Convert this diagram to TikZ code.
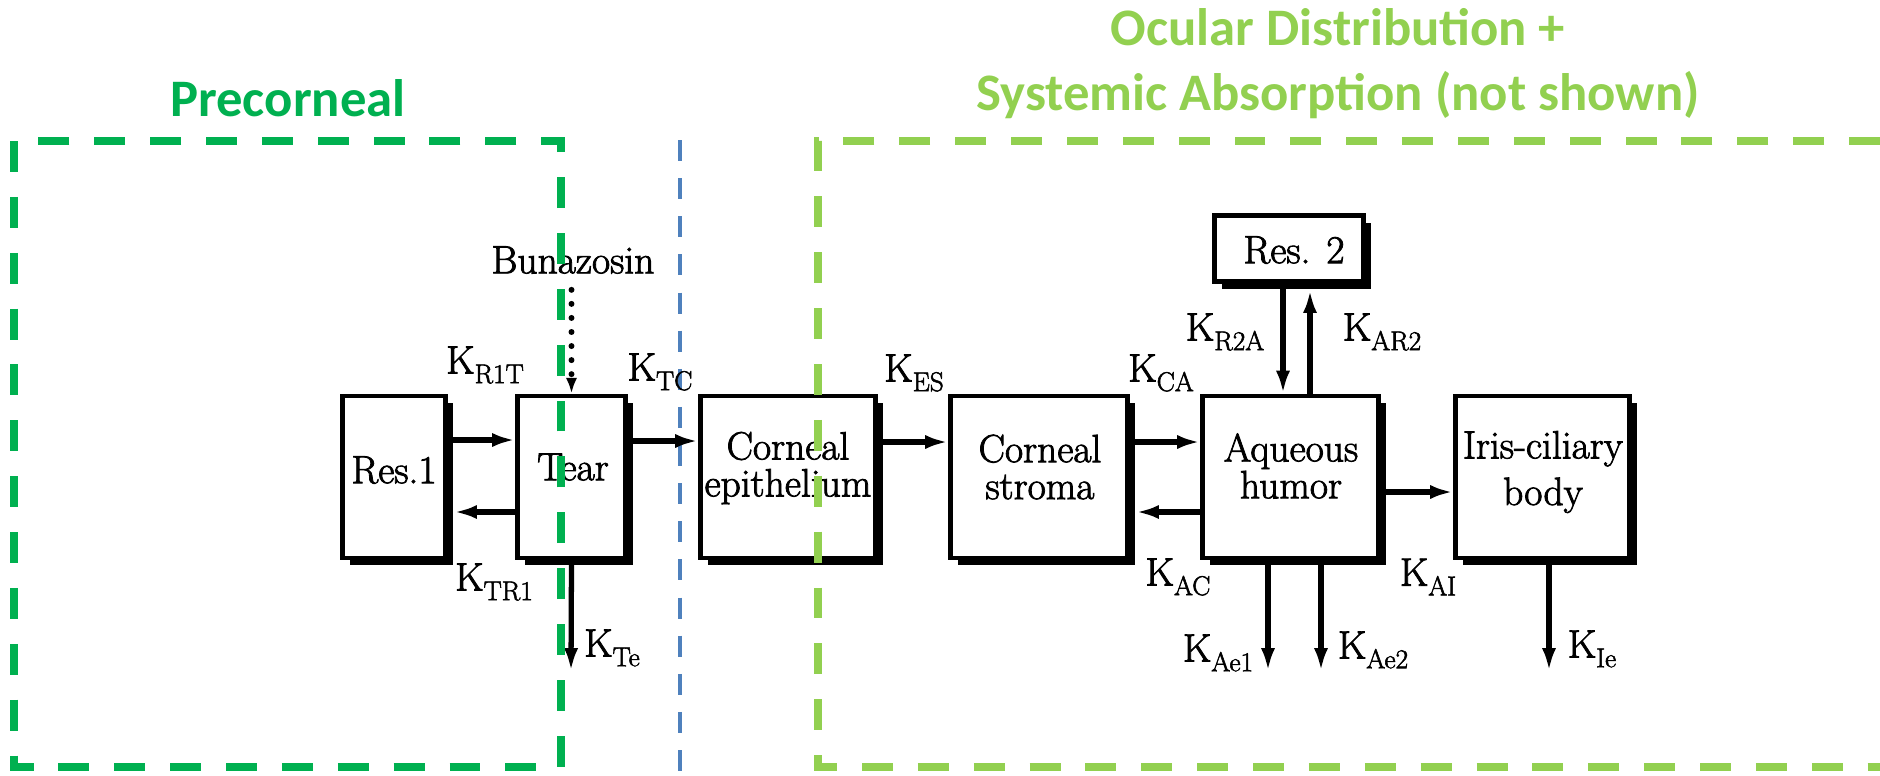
\documentclass[tikz,border=0pt]{standalone}
\usepackage{fontspec}
\newfontfamily\titlefont{Carlito}
\newfontfamily\boxfont{Latin Modern Roman}[FakeBold=2]
\usetikzlibrary{arrows.meta,shadows}

\definecolor{precgreen}{HTML}{00B050}
\definecolor{ocugreen}{HTML}{92D050}
\definecolor{sepblue}{HTML}{4F81BD}

\newcommand{\krate}[1]{K\raisebox{-5.5pt}{\fontsize{15.5}{15.5}\selectfont #1}}

\tikzset{
  comp/.style={draw=black, line width=2.8pt, fill=white, inner sep=0pt,
    drop shadow={shadow xshift=4pt, shadow yshift=-4pt, fill=black, opacity=1}},
  compname/.style={inner sep=0pt, align=center},
  flow/.style={line width=3pt, -{Latex[length=13pt,width=8pt]}},
  rate/.style={inner sep=0pt},
  region/.style={line width=4.5pt, dash pattern=on 17.6pt off 14.2pt},
}

\begin{document}
\begin{tikzpicture}[x=0.02cm,y=-0.02cm,font=\boxfont\fontsize{22.5}{21}\selectfont]
\useasboundingbox (0,0) rectangle (1880,775);
\draw [sepblue, line width=2.8pt, dash pattern=on 12pt off 9.7pt] (680,140) -- (680,775);

% compartments
\node [comp, minimum width=2.06cm, minimum height=3.24cm] (r1) at (394,477) {};
\node [comp, minimum width=2.16cm, minimum height=3.24cm] (t) at (571.5,477) {};
\node [comp, minimum width=3.5cm, minimum height=3.24cm] (ep) at (788,477) {};
\node [comp, minimum width=3.54cm, minimum height=3.24cm] (st) at (1039,477) {};
\node [comp, minimum width=3.52cm, minimum height=3.24cm] (aq) at (1290.5,477) {};
\node [comp, minimum width=3.48cm, minimum height=3.24cm] (ir) at (1542.5,477) {};
\node [comp, minimum width=2.98cm, minimum height=1.32cm] (r2) at (1289,248.5) {};

\node [compname] (r1n) at (394,470) {Res.1};
\node [compname] (tn) at (573,467) {Tear};
\node [compname] (epn) at (788,468) {Corneal\\epithelium};
\node [compname] (stn) at (1040,467) {Corneal\\stroma};
\node [compname] (aqn) at (1291,466) {Aqueous\\humor};
\node [compname] (irn) at (1543,472) {Iris-ciliary\\[5.5pt]body};
\node [compname] (r2n) at (1294,250) {Res. 2};

% rate constants
\node [rate] (bz) at (573,260) {Bunazosin};
\node [rate] (kr1t) at (485,365) {\krate{R1T}};
\node [rate] (ktc) at (660,372) {\krate{TC}};
\node [rate] (ktr1) at (494,582) {\krate{TR1}};
\node [rate] (kte) at (612,648) {\krate{Te}};
\node [rate] (kes) at (914,373) {\krate{ES}};
\node [rate] (kca) at (1161,373) {\krate{CA}};
\node [rate] (kr2a) at (1225,332) {\krate{R2A}};
\node [rate] (kar2) at (1382,332) {\krate{AR2}};
\node [rate] (kac) at (1178,577) {\krate{AC}};
\node [rate] (kai) at (1428,577) {\krate{AI}};
\node [rate] (kae1) at (1218,653) {\krate{Ae1}};
\node [rate] (kae2) at (1373,650) {\krate{Ae2}};
\node [rate] (kie) at (1592,649) {\krate{Ie}};

\coordinate (te) at (571,671);
\coordinate (ae1) at (1268,671);
\coordinate (ae2) at (1321,671);
\coordinate (ie) at (1549,671);

% transfers
\draw [line width=3.4pt, line cap=round, dash pattern=on 0pt off 8pt, shorten <=9pt,
  -{Latex[length=9pt,width=6.5pt]}] (t.north |- bz.south) -- (t.north);
\draw [flow] (r1.east |- 0,440) -- (t.west |- 0,440);
\draw [flow, shorten >=3.5pt] (t.west |- 0,512) -- (r1.east |- 0,512);
\draw [flow] (t.east |- 0,441) -- (ep.west |- 0,441);
\draw [flow] (ep.east |- 0,442) -- (st.west |- 0,442);
\draw [flow] (st.east |- 0,442) -- (aq.west |- 0,442);
\draw [flow, shorten >=3.5pt] (aq.west |- 0,512) -- (st.east |- 0,512);
\draw [flow] (aq.east |- 0,492) -- (ir.west |- 0,492);
\draw [flow] (r2.south -| 1283,0) -- (aq.north -| 1283,0);
\draw [flow, shorten >=3.5pt] (aq.north -| 1310,0) -- (r2.south -| 1310,0);
\draw [flow] (t.south) -- (te);
\draw [flow] (aq.south -| ae1) -- (ae1);
\draw [flow] (aq.south -| ae2) -- (ae2);
\draw [flow] (ir.south -| ie) -- (ie);

% regions
\node [text=precgreen, font=\titlefont\bfseries\fontsize{30}{36}\selectfont] (prec) at (288,98) {Precorneal};
\node [text=ocugreen, align=center, font=\titlefont\bfseries\fontsize{30}{37}\selectfont] (ocu) at (1338,64)
  {Ocular Distribution +\\Systemic Absorption (not shown)};
\draw [region, precgreen] (14,141) rectangle (561,767);
\draw [region, ocugreen] (1880,141) -- (818,141) -- (818,767) -- (1880,767);
\end{tikzpicture}
\end{document}
